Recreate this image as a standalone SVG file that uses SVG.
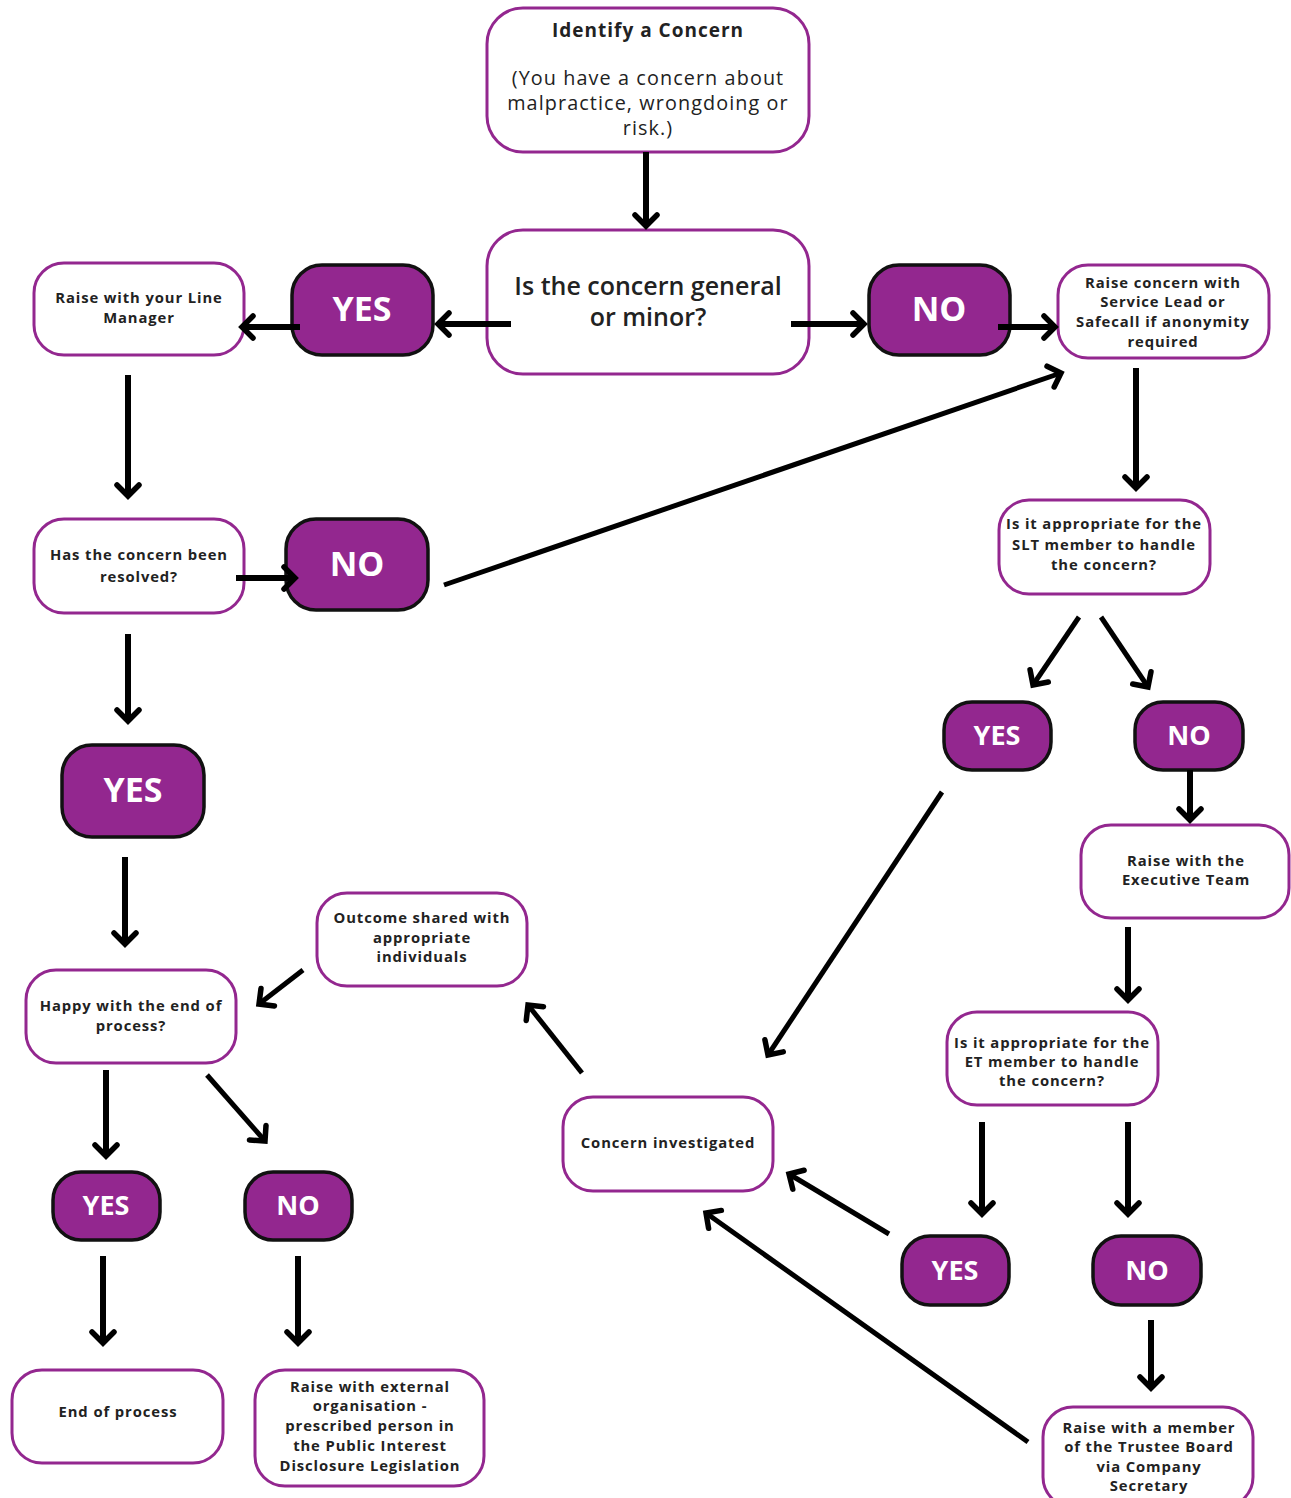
<svg xmlns="http://www.w3.org/2000/svg" width="1291" height="1498" viewBox="0 0 1291 1498">
<style>
.box{fill:#fff;stroke:#93278f;stroke-width:3}
.pill{fill:#93278f;stroke:#111;stroke-width:3.5}
.t{font-family:"Open Sans","Liberation Sans",sans-serif;font-weight:700;font-size:14.8px;letter-spacing:0.9px;fill:#222;text-anchor:middle}
.big{font-family:"Open Sans","Liberation Sans",sans-serif;font-weight:600;font-size:25px;fill:#222;text-anchor:middle}
.sub{font-family:"Open Sans","Liberation Sans",sans-serif;font-weight:400;font-size:19.8px;letter-spacing:1.1px;fill:#222;text-anchor:middle}
.pt{font-family:"Open Sans","Liberation Sans",sans-serif;font-weight:700;fill:#fff;text-anchor:middle}
.c line{stroke:#000;stroke-width:6;marker-end:url(#ah)}
.c line.thin{stroke-width:5}
</style>
<defs>
<marker id="ah" markerUnits="userSpaceOnUse" markerWidth="30" markerHeight="30" viewBox="-15 -15 30 30" refX="0" refY="0" orient="auto">
<path d="M-11,-11 L0,0 L-11,11" fill="none" stroke="#000" stroke-width="5.5" stroke-linecap="round"/>
</marker>
</defs>
<g id="identify">
<rect class="box" x="487" y="8" width="322" height="144" rx="36"/>
<text class="t" x="648" y="37" style="font-size:19px;letter-spacing:1px">Identify a Concern</text>
<text class="sub" x="648" y="85">(You have a concern about</text>
<text class="sub" x="648" y="110">malpractice, wrongdoing or</text>
<text class="sub" x="648" y="135">risk.)</text>
</g>
<g id="general">
<rect class="box" x="487" y="230" width="322" height="144" rx="36"/>
<text class="big" x="648" y="295">Is the concern general</text>
<text class="big" x="648" y="326">or minor?</text>
</g>
<g id="yes1">
<rect class="pill" x="292" y="265" width="141" height="90" rx="30"/>
<text class="pt" x="362" y="321" style="font-size:34px">YES</text>
</g>
<g id="no1">
<rect class="pill" x="869" y="265" width="141" height="90" rx="30"/>
<text class="pt" x="939" y="321" style="font-size:34px">NO</text>
</g>
<g id="linemanager">
<rect class="box" x="34" y="263" width="210" height="92" rx="30"/>
<text class="t" x="139" y="303">Raise with your Line</text>
<text class="t" x="139" y="323">Manager</text>
</g>
<g id="servicelead">
<rect class="box" x="1058" y="265" width="211" height="93" rx="30"/>
<text class="t" x="1163" y="288">Raise concern with</text>
<text class="t" x="1163" y="307">Service Lead or</text>
<text class="t" x="1163" y="327">Safecall if anonymity</text>
<text class="t" x="1163" y="347">required</text>
</g>
<g id="resolved">
<rect class="box" x="34" y="519" width="210" height="94" rx="30"/>
<text class="t" x="139" y="560">Has the concern been</text>
<text class="t" x="139" y="582">resolved?</text>
</g>
<g id="no2">
<rect class="pill" x="286" y="519" width="142" height="91" rx="30"/>
<text class="pt" x="357" y="576" style="font-size:34px">NO</text>
</g>
<g id="slt">
<rect class="box" x="999" y="500" width="211" height="94" rx="30"/>
<text class="t" x="1104" y="529">Is it appropriate for the</text>
<text class="t" x="1104" y="550">SLT member to handle</text>
<text class="t" x="1104" y="570">the concern?</text>
</g>
<g id="yes2">
<rect class="pill" x="944" y="702" width="107" height="68" rx="28"/>
<text class="pt" x="997" y="745" style="font-size:27px">YES</text>
</g>
<g id="no3">
<rect class="pill" x="1135" y="702" width="108" height="68" rx="28"/>
<text class="pt" x="1189" y="745" style="font-size:27px">NO</text>
</g>
<g id="yes3">
<rect class="pill" x="62" y="745" width="142" height="92" rx="30"/>
<text class="pt" x="133" y="802" style="font-size:34px">YES</text>
</g>
<g id="executive">
<rect class="box" x="1081" y="825" width="208" height="93" rx="30"/>
<text class="t" x="1186" y="866">Raise with the</text>
<text class="t" x="1186" y="885">Executive Team</text>
</g>
<g id="outcome">
<rect class="box" x="317" y="893" width="210" height="93" rx="30"/>
<text class="t" x="422" y="923">Outcome shared with</text>
<text class="t" x="422" y="943">appropriate</text>
<text class="t" x="422" y="962">individuals</text>
</g>
<g id="happy">
<rect class="box" x="26" y="970" width="210" height="93" rx="30"/>
<text class="t" x="131" y="1011">Happy with the end of</text>
<text class="t" x="131" y="1031">process?</text>
</g>
<g id="et">
<rect class="box" x="947" y="1012" width="211" height="93" rx="30"/>
<text class="t" x="1052" y="1048">Is it appropriate for the</text>
<text class="t" x="1052" y="1067">ET member to handle</text>
<text class="t" x="1052" y="1086">the concern?</text>
</g>
<g id="investigated">
<rect class="box" x="563" y="1097" width="210" height="94" rx="30"/>
<text class="t" x="668" y="1148">Concern investigated</text>
</g>
<g id="yes4">
<rect class="pill" x="53" y="1172" width="107" height="68" rx="28"/>
<text class="pt" x="106" y="1215" style="font-size:27px">YES</text>
</g>
<g id="no4">
<rect class="pill" x="245" y="1172" width="107" height="68" rx="28"/>
<text class="pt" x="298" y="1215" style="font-size:27px">NO</text>
</g>
<g id="yes5">
<rect class="pill" x="902" y="1236" width="107" height="69" rx="28"/>
<text class="pt" x="955" y="1280" style="font-size:27px">YES</text>
</g>
<g id="no5">
<rect class="pill" x="1093" y="1236" width="108" height="69" rx="28"/>
<text class="pt" x="1147" y="1280" style="font-size:27px">NO</text>
</g>
<g id="endprocess">
<rect class="box" x="12" y="1370" width="211" height="93" rx="30"/>
<text class="t" x="118" y="1417">End of process</text>
</g>
<g id="external">
<rect class="box" x="255" y="1370" width="229" height="116" rx="30"/>
<text class="t" x="370" y="1392">Raise with external</text>
<text class="t" x="370" y="1411">organisation -</text>
<text class="t" x="370" y="1431">prescribed person in</text>
<text class="t" x="370" y="1451">the Public Interest</text>
<text class="t" x="370" y="1471">Disclosure Legislation</text>
</g>
<g id="trustee">
<rect class="box" x="1043" y="1407" width="210" height="100" rx="30"/>
<text class="t" x="1149" y="1433">Raise with a member</text>
<text class="t" x="1149" y="1452">of the Trustee Board</text>
<text class="t" x="1149" y="1472">via Company</text>
<text class="t" x="1149" y="1491">Secretary</text>
</g>
<g class="c" id="connectors">
<line x1="646" y1="152" x2="646" y2="226"/>
<line x1="511" y1="324" x2="438" y2="324"/>
<line x1="300" y1="327" x2="242" y2="327"/>
<line x1="791" y1="324" x2="864" y2="324"/>
<line x1="998" y1="327" x2="1055" y2="327"/>
<line x1="128" y1="375" x2="128" y2="496"/>
<line x1="236" y1="578" x2="295" y2="578"/>
<line class="thin" x1="444" y1="585" x2="1061" y2="373"/>
<line x1="1136" y1="368" x2="1136" y2="488"/>
<line class="thin" x1="1079" y1="617" x2="1033" y2="685"/>
<line class="thin" x1="1101" y1="617" x2="1148" y2="687"/>
<line x1="1190" y1="770" x2="1190" y2="820"/>
<line x1="128" y1="634" x2="128" y2="721"/>
<line x1="125" y1="857" x2="125" y2="944"/>
<line class="thin" x1="942" y1="792" x2="768" y2="1055"/>
<line x1="1128" y1="927" x2="1128" y2="1000"/>
<line class="thin" x1="303" y1="970" x2="259" y2="1004"/>
<line class="thin" x1="582" y1="1073" x2="528" y2="1005"/>
<line x1="106" y1="1070" x2="106" y2="1156"/>
<line class="thin" x1="207" y1="1075" x2="265" y2="1141"/>
<line x1="982" y1="1122" x2="982" y2="1214"/>
<line x1="1128" y1="1122" x2="1128" y2="1214"/>
<line class="thin" x1="889" y1="1234" x2="789" y2="1174"/>
<line class="thin" x1="1028" y1="1442" x2="706" y2="1213"/>
<line x1="103" y1="1256" x2="103" y2="1343"/>
<line x1="298" y1="1256" x2="298" y2="1343"/>
<line x1="1151" y1="1320" x2="1151" y2="1388"/>
</g>
</svg>
